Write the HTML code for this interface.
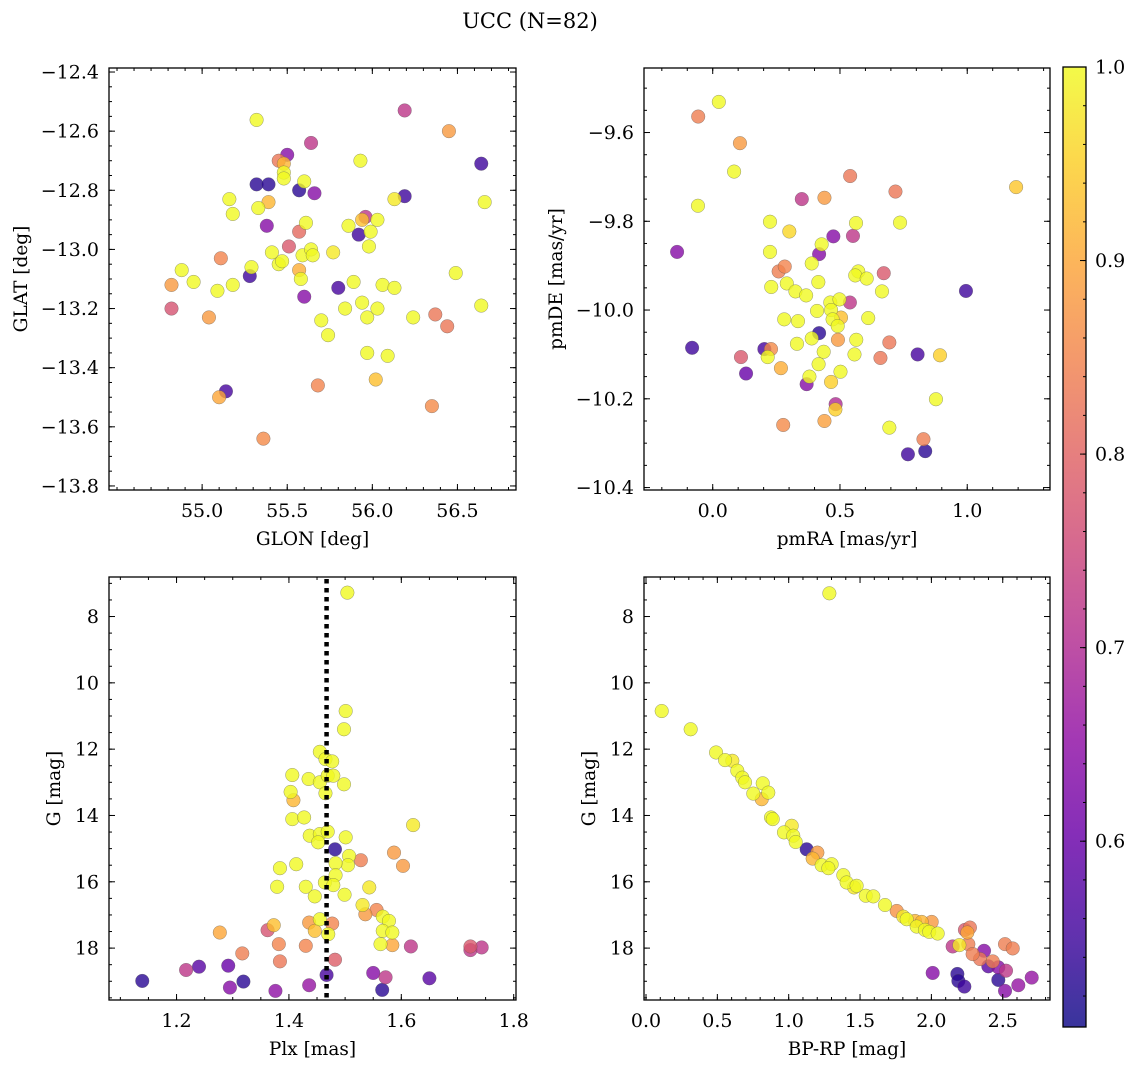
<!DOCTYPE html>
<html><head><meta charset="utf-8"><title>UCC (N=82)</title>
<style>
html,body{margin:0;padding:0;background:#fff;}
svg{display:block;font-family:"DejaVu Serif","Liberation Serif",serif;}
</style></head>
<body>
<svg id="fig" width="1136" height="1067" viewBox="0 0 1136 1067" xmlns="http://www.w3.org/2000/svg">
<text x="530" y="28" text-anchor="middle" font-size="21">UCC (N=82)</text>
</svg>
<script>
// ---- data ----
const vmin = 0.504, vmax = 1.0;
// panel 1: GLON / GLAT
const glon = [55.32,56.19,56.45,55.64,55.50,55.45,55.48,55.48,55.48,55.93,56.64,55.32,55.39,55.60,55.57,55.66,56.19,56.13,56.66,55.16,55.39,55.33,55.18,55.61,55.38,55.57,55.96,55.94,56.03,55.86,55.92,55.99,55.98,55.51,55.41,55.59,55.64,55.65,55.77,55.11,54.88,54.82,54.95,54.82,55.09,55.18,55.29,55.28,55.45,55.47,55.57,55.58,55.60,55.80,55.89,56.06,56.13,56.49,56.64,55.84,55.94,56.03,55.97,55.70,55.74,56.24,56.37,56.44,55.04,55.97,56.09,56.02,55.68,55.14,55.10,56.35,55.36];
const glat = [-12.562,-12.53,-12.60,-12.64,-12.68,-12.70,-12.71,-12.74,-12.76,-12.70,-12.71,-12.78,-12.78,-12.77,-12.80,-12.81,-12.82,-12.83,-12.84,-12.83,-12.84,-12.86,-12.88,-12.91,-12.92,-12.94,-12.89,-12.90,-12.90,-12.92,-12.95,-12.94,-12.99,-12.99,-13.01,-13.02,-13.00,-13.02,-13.01,-13.03,-13.07,-13.12,-13.11,-13.20,-13.14,-13.12,-13.06,-13.09,-13.05,-13.04,-13.07,-13.10,-13.16,-13.13,-13.11,-13.12,-13.13,-13.08,-13.19,-13.20,-13.18,-13.20,-13.23,-13.24,-13.29,-13.23,-13.22,-13.26,-13.23,-13.35,-13.36,-13.44,-13.46,-13.48,-13.50,-13.53,-13.64];
const prob1 = [1.0,0.72,0.88,0.72,0.64,0.83,0.92,1.0,1.0,1.0,0.55,0.53,0.53,1.0,0.53,0.64,0.55,0.98,1.0,1.0,0.92,1.0,1.0,1.0,0.64,0.81,0.72,0.93,1.0,1.0,0.55,1.0,1.0,0.78,1.0,1.0,1.0,1.0,0.98,0.85,1.0,0.88,1.0,0.77,1.0,1.0,1.0,0.55,1.0,1.0,0.91,1.0,0.64,0.56,1.0,1.0,1.0,1.0,1.0,1.0,1.0,1.0,1.0,1.0,1.0,1.0,0.83,0.83,0.88,1.0,1.0,0.93,0.85,0.56,0.9,0.86,0.86];
// panel 2: pmRA / pmDE
const pmra = [0.024,-0.057,0.107,0.084,-0.058,1.192,0.540,0.718,0.350,0.439,0.225,0.301,0.563,0.736,0.474,0.551,-0.140,0.225,0.428,0.418,0.389,0.283,0.259,0.230,0.291,0.325,0.367,0.415,0.572,0.560,0.605,0.672,0.665,0.995,0.462,0.498,0.539,0.410,0.465,0.281,0.335,0.471,0.504,0.491,0.611,0.418,0.389,0.492,0.564,0.331,0.694,-0.081,0.203,0.229,0.216,0.111,0.436,0.557,0.659,0.805,0.893,0.131,0.268,0.416,0.502,0.369,0.380,0.465,0.877,0.483,0.482,0.439,0.277,0.694,0.828,0.835,0.767];
const pmde = [-9.531,-9.564,-9.624,-9.688,-9.765,-9.723,-9.698,-9.733,-9.750,-9.747,-9.801,-9.823,-9.804,-9.803,-9.834,-9.833,-9.869,-9.869,-9.852,-9.874,-9.895,-9.902,-9.913,-9.948,-9.940,-9.958,-9.967,-9.937,-9.913,-9.922,-9.929,-9.917,-9.958,-9.957,-9.983,-9.976,-9.983,-10.002,-10.000,-10.021,-10.025,-10.021,-10.017,-10.036,-10.018,-10.052,-10.064,-10.067,-10.067,-10.076,-10.073,-10.085,-10.088,-10.088,-10.106,-10.106,-10.094,-10.100,-10.108,-10.100,-10.102,-10.143,-10.131,-10.122,-10.139,-10.167,-10.150,-10.162,-10.201,-10.212,-10.224,-10.250,-10.259,-10.265,-10.291,-10.318,-10.325];
const prob2 = [1.0,0.84,0.88,1.0,1.0,0.94,0.83,0.83,0.72,0.88,1.0,0.96,1.0,1.0,0.64,0.72,0.64,1.0,1.0,0.64,1.0,0.85,0.84,1.0,1.0,1.0,1.0,1.0,1.0,1.0,1.0,0.78,1.0,0.55,1.0,1.0,0.72,1.0,1.0,1.0,1.0,1.0,0.93,1.0,1.0,0.53,1.0,0.88,1.0,1.0,0.83,0.55,0.56,0.86,1.0,0.78,1.0,1.0,0.83,0.56,0.95,0.6,0.91,1.0,1.0,0.64,1.0,0.95,1.0,0.7,0.95,0.89,0.86,1.0,0.84,0.53,0.55];
// panel 3: Plx / G
const plx = [1.504,1.501,1.498,1.455,1.465,1.477,1.406,1.435,1.455,1.469,1.479,1.498,1.465,1.403,1.408,1.406,1.427,1.621,1.437,1.455,1.469,1.452,1.501,1.482,1.507,1.505,1.483,1.528,1.587,1.603,1.413,1.384,1.483,1.464,1.479,1.379,1.430,1.446,1.499,1.543,1.531,1.536,1.556,1.567,1.578,1.567,1.584,1.563,1.584,1.455,1.436,1.446,1.477,1.470,1.373,1.362,1.277,1.382,1.430,1.317,1.384,1.482,1.617,1.723,1.723,1.743,1.217,1.240,1.292,1.139,1.319,1.295,1.376,1.436,1.467,1.550,1.572,1.566,1.650];
const gmag3 = [7.28,10.85,11.40,12.08,12.30,12.37,12.78,12.90,13.00,12.80,12.80,13.06,13.33,13.29,13.54,14.11,14.06,14.29,14.61,14.56,14.49,14.81,14.66,15.02,15.22,15.50,15.44,15.35,15.12,15.52,15.47,15.59,15.80,16.02,16.10,16.15,16.15,16.44,16.39,16.17,16.70,16.98,16.85,17.05,17.18,17.48,17.53,17.88,17.91,17.13,17.23,17.48,17.26,17.58,17.31,17.46,17.53,17.88,17.93,18.16,18.40,18.35,17.95,18.06,17.95,17.98,18.66,18.56,18.53,18.99,19.01,19.19,19.29,19.12,18.81,18.75,18.88,19.26,18.91];
const prob3 = [1.0,1.0,1.0,1.0,1.0,1.0,1.0,1.0,1.0,1.0,1.0,1.0,1.0,1.0,0.92,1.0,1.0,0.98,1.0,1.0,1.0,1.0,1.0,0.53,1.0,1.0,1.0,0.84,0.88,0.88,1.0,1.0,1.0,1.0,1.0,1.0,1.0,1.0,1.0,0.98,0.98,0.88,0.85,1.0,1.0,1.0,1.0,1.0,0.9,1.0,0.88,0.93,0.85,1.0,0.93,0.77,0.9,0.85,0.85,0.84,0.83,0.79,0.72,0.72,0.78,0.72,0.72,0.58,0.6,0.53,0.53,0.64,0.65,0.66,0.56,0.64,0.72,0.53,0.58];
// panel 4: BP-RP / G
const bprp = [1.285,0.110,0.313,0.491,0.554,0.605,0.640,0.675,0.694,0.818,0.752,0.857,0.811,0.876,0.888,1.021,0.967,1.032,1.049,1.126,1.201,1.168,1.231,1.301,1.278,1.383,1.406,1.476,1.458,1.540,1.593,1.675,1.757,1.803,1.827,1.885,1.932,2.002,1.897,1.955,1.985,2.044,2.270,2.235,2.252,2.196,2.149,2.259,2.516,2.570,2.369,2.289,2.341,2.430,2.399,2.469,2.523,2.009,2.182,2.189,2.231,2.469,2.516,2.609,2.703];
const gmag4 = [7.30,10.85,11.40,12.10,12.33,12.35,12.65,12.86,13.00,13.03,13.34,13.31,13.51,14.06,14.11,14.31,14.51,14.61,14.80,15.02,15.12,15.30,15.50,15.47,15.59,15.80,16.02,16.12,16.17,16.42,16.44,16.70,16.88,17.05,17.13,17.18,17.21,17.21,17.35,17.45,17.51,17.56,17.38,17.45,17.53,17.91,17.95,17.88,17.88,18.01,18.08,18.18,18.33,18.40,18.55,18.58,18.68,18.75,18.78,18.99,19.16,18.96,19.29,19.12,18.89];
const prob4 = [1.0,1.0,1.0,1.0,1.0,0.98,1.0,1.0,1.0,1.0,1.0,1.0,0.92,1.0,1.0,0.98,1.0,1.0,1.0,0.53,0.88,0.92,1.0,1.0,1.0,1.0,1.0,1.0,0.98,1.0,1.0,1.0,0.87,0.98,1.0,0.92,0.92,0.88,1.0,1.0,1.0,1.0,0.83,0.78,0.9,0.98,0.72,0.84,0.84,0.84,0.64,0.84,0.83,0.84,0.58,0.64,0.72,0.64,0.53,0.53,0.55,0.53,0.64,0.66,0.66];
const plxMean = 1.467;
const cbTicks = [0.6,0.7,0.8,0.9,1.0];

// ---- drawing ----
const NS = "http://www.w3.org/2000/svg";
const svg = document.getElementById('fig');
const TICK_FS = 19, LAB_FS = 18.5;
function el(tag, attrs, parent){const e=document.createElementNS(NS,tag);for(const k in attrs)e.setAttribute(k,attrs[k]);(parent||svg).appendChild(e);return e;}
const stops=[[0,'#0d0887'],[0.1,'#41049d'],[0.2,'#6a00a8'],[0.3,'#8f0da4'],[0.4,'#b12a90'],[0.5,'#cc4778'],[0.6,'#e16462'],[0.7,'#f2844b'],[0.8,'#fca636'],[0.9,'#fcce25'],[1,'#f0f921']];
function hex(h){return [1,3,5].map(i=>parseInt(h.substr(i,2),16));}
function plasma(t){t=Math.max(0,Math.min(1,t));for(let i=1;i<stops.length;i++){if(t<=stops[i][0]){const a=stops[i-1],b=stops[i];const f=(t-a[0])/(b[0]-a[0]);const ca=hex(a[1]),cb=hex(b[1]);return 'rgb('+ca.map((v,j)=>Math.round(v+(cb[j]-v)*f)).join(',')+')';}}return stops[10][1];}
function fmt(v,d,neg){const s=Math.abs(v).toFixed(d);return (v<0&&!neg?'\u2212':'')+s;}

function panel(name,box,xr,yr,xt,yt,xmin,ymin,xd,yd,xs,ys,ps,xlab,ylab,ylabX,absY){
  const [L,T,R,B]=box;
  const sx=v=>L+(v-xr[0])/(xr[1]-xr[0])*(R-L);
  const sy=v=>T+(yr[1]-v)/(yr[1]-yr[0])*(B-T);
  const g=el('g',{});
  
  
  el('rect',{x:L,y:T,width:R-L,height:B-T,fill:'#fff'},g);
  const pts=el('g',{},g);
  
  
  const order=ps.map((p,i)=>i).sort((a,b)=>ps[a]-ps[b]);
  order.forEach(i=>{
    const c=el('circle',{cx:sx(xs[i]),cy:sy(ys[i]),r:6.8,fill:plasma((ps[i]-vmin)/(vmax-vmin)),'fill-opacity':0.8,stroke:'#555','stroke-opacity':0.6,'stroke-width':0.5},pts);
    
    
  });
  const ax=el('g',{stroke:'#000','stroke-width':1},g);
  
  
  for(let v=Math.ceil(xr[0]/xmin-1e-6)*xmin;v<=xr[1]+1e-9;v+=xmin){const x=sx(v);el('line',{x1:x,y1:B,x2:x,y2:B-3},ax);el('line',{x1:x,y1:T,x2:x,y2:T+3},ax);}
  for(let v=Math.ceil(yr[0]/ymin-1e-6)*ymin;v<=yr[1]+1e-9;v+=ymin){const y=sy(v);el('line',{x1:L,y1:y,x2:L+3,y2:y},ax);el('line',{x1:R,y1:y,x2:R-3,y2:y},ax);}
  xt.forEach(v=>{const x=sx(v);el('line',{x1:x,y1:B,x2:x,y2:B-6},ax);el('line',{x1:x,y1:T,x2:x,y2:T+6},ax);
    const t=el('text',{x:x,y:B+27,'text-anchor':'middle','font-size':TICK_FS,stroke:'none'},g);t.textContent=fmt(v,xd,false);
    
    });
  yt.forEach(v=>{const y=sy(v);el('line',{x1:L,y1:y,x2:L+6,y2:y},ax);el('line',{x1:R,y1:y,x2:R-6,y2:y},ax);
    const t=el('text',{x:L-10,y:y+6.5,'text-anchor':'end','font-size':TICK_FS,stroke:'none'},g);t.textContent=fmt(v,yd,absY);
    
    });
  el('rect',{x:L,y:T,width:R-L,height:B-T,fill:'none',stroke:'#000','stroke-width':1.3},g);
  const xl=el('text',{x:(L+R)/2,y:B+55,'text-anchor':'middle','font-size':LAB_FS},g);xl.textContent=xlab;
  
  
  const yc=(T+B)/2;
  const yl=el('text',{x:ylabX,y:yc,'text-anchor':'middle','font-size':LAB_FS,transform:'rotate(-90 '+ylabX+' '+yc+')'},g);yl.textContent=ylab;
  
  
  return {sx,sy,g};
}
panel('panel-glon-glat',[109,68,516,490],[54.4529,56.8441],[-13.8137,-12.3864],[55.0,55.5,56.0,56.5],[-13.8,-13.6,-13.4,-13.2,-13.0,-12.8,-12.6,-12.4],0.1,0.05,1,1,glon,glat,prob1,'GLON [deg]','GLAT [deg]',27,false);
panel('panel-pmra-pmde',[644,68,1050,490],[-0.2700,1.3252],[-10.4055,-9.4546],[0.0,0.5,1.0],[-10.4,-10.2,-10.0,-9.8,-9.6],0.1,0.05,1,1,pmra,pmde,prob2,'pmRA [mas/yr]','pmDE [mas/yr]',562,false);
// inverted G axis: plotted as negated magnitude, labels shown as absolute values
const gneg3=gmag3.map(v=>-v), gneg4=gmag4.map(v=>-v);
const p3=panel('panel-plx-g',[109,577,516,1000],[1.0798,1.8041],[-19.565,-6.808],[1.2,1.4,1.6,1.8],[-18,-16,-14,-12,-10,-8],0.05,0.5,1,0,plx,gneg3,prob3,'Plx [mas]','G [mag]',60,true);
const p4=panel('panel-bprp-g',[644,577,1050,1000],[-0.0140,2.8312],[-19.565,-6.808],[0.0,0.5,1.0,1.5,2.0,2.5],[-18,-16,-14,-12,-10,-8],0.1,0.5,1,0,bprp,gneg4,prob4,'BP-RP [mag]','G [mag]',595,true);
// mean parallax dotted line
const ml=el('line',{x1:p3.sx(plxMean),y1:579,x2:p3.sx(plxMean),y2:999,stroke:'#000','stroke-width':4.5,'stroke-dasharray':'4.5 4.5'},p3.g);



// colorbar
const cb=el('g',{});


const defs=el('defs',{});
const lg=el('linearGradient',{id:'plg',x1:0,y1:1,x2:0,y2:0},defs);
stops.forEach(s=>el('stop',{offset:s[0],'stop-color':s[1],'stop-opacity':0.82},lg));
const cT=67,cB=1027,cL=1063,cR=1086;
el('rect',{x:cL,y:cT,width:cR-cL,height:cB-cT,fill:'url(#plg)'},cb);
const cy=v=>cB-(v-vmin)/(vmax-vmin)*(cB-cT);
for(let v=0.52;v<1.0;v+=0.02){el('line',{x1:cR,y1:cy(v),x2:cR-3,y2:cy(v),stroke:'#000','stroke-width':1},cb);}
cbTicks.forEach(v=>{el('line',{x1:cR,y1:cy(v),x2:cR-6,y2:cy(v),stroke:'#000','stroke-width':1},cb);
  const t=el('text',{x:cR+9,y:cy(v)+6.5,'font-size':TICK_FS},cb);t.textContent=v.toFixed(1);
  
  });
el('rect',{x:cL,y:cT,width:cR-cL,height:cB-cT,fill:'none',stroke:'#000','stroke-width':1.3},cb);
</script>
</body></html>
